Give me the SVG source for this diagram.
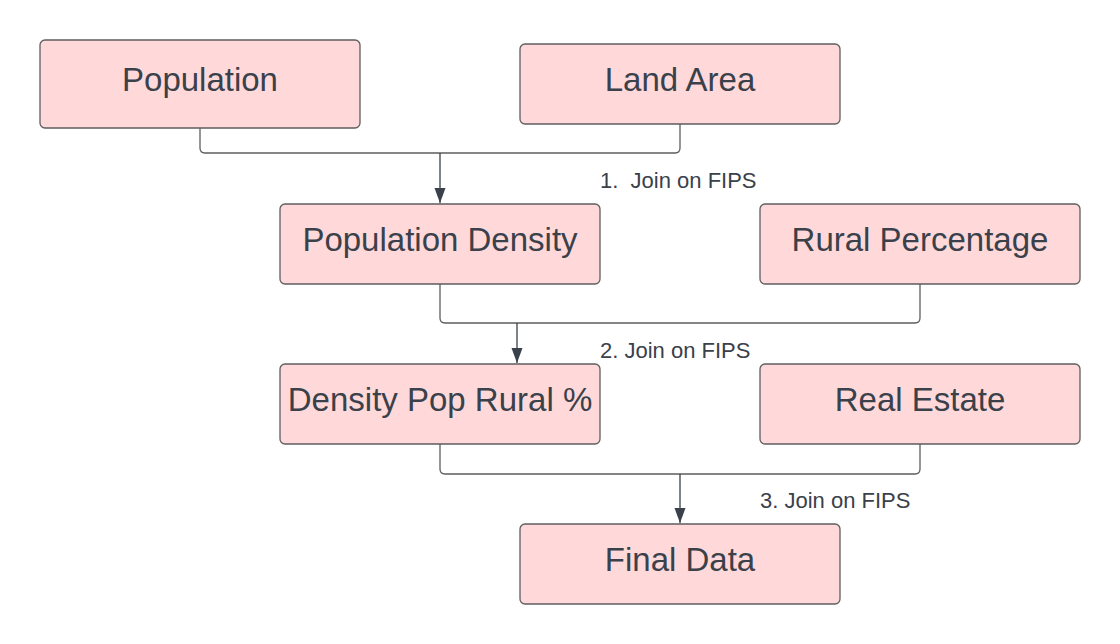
<svg xmlns="http://www.w3.org/2000/svg" width="1120" height="644" viewBox="0 0 1120 644">
<style>
.box{fill:#ffd9da;stroke:#5e5e5e;stroke-width:1.3}
.t{font-family:"Liberation Sans",Arial,sans-serif;font-size:33px;fill:#3a414a;text-anchor:middle}
.lbl{font-family:"Liberation Sans",Arial,sans-serif;font-size:22px;fill:#3a414a}
.c{fill:none;stroke:#5e5e5e;stroke-width:1.3}
.a{fill:none;stroke:#3a414a;stroke-width:1.3}
</style>
<defs>
<marker id="ah" markerWidth="16" markerHeight="12" refX="15" refY="6" orient="auto" markerUnits="userSpaceOnUse" viewBox="0 0 16 12">
<path d="M0,0.5 L15,6 L0,11.5 Z" fill="#3a414a"/>
</marker>
</defs>
<rect width="1120" height="644" fill="#ffffff"/>
<g id="connectors">
<path class="c" d="M200,128 V148 Q200,153 205,153 H675 Q680,153 680,148 V124"/>
<path class="a" d="M440,153 V203" marker-end="url(#ah)"/>
<path class="c" d="M440,284 V318 Q440,323 445,323 H915 Q920,323 920,318 V284"/>
<path class="a" d="M517,323 V363" marker-end="url(#ah)"/>
<path class="c" d="M440,444 V469 Q440,474 445,474 H915 Q920,474 920,469 V444"/>
<path class="a" d="M680,474 V523" marker-end="url(#ah)"/>
<text class="lbl" x="600" y="188" xml:space="preserve">1.  Join on FIPS</text>
<text class="lbl" x="600" y="358">2. Join on FIPS</text>
<text class="lbl" x="760" y="508">3. Join on FIPS</text>
</g>
<g id="population"><rect class="box" x="40" y="40" width="320" height="88" rx="5"/><text class="t" x="200" y="91">Population</text></g>
<g id="land-area"><rect class="box" x="520" y="44" width="320" height="80" rx="5"/><text class="t" x="680" y="91">Land Area</text></g>
<g id="population-density"><rect class="box" x="280" y="204" width="320" height="80" rx="5"/><text class="t" x="440" y="251">Population Density</text></g>
<g id="rural-percentage"><rect class="box" x="760" y="204" width="320" height="80" rx="5"/><text class="t" x="920" y="251">Rural Percentage</text></g>
<g id="density-pop-rural"><rect class="box" x="280" y="364" width="320" height="80" rx="5"/><text class="t" x="440" y="411">Density Pop Rural %</text></g>
<g id="real-estate"><rect class="box" x="760" y="364" width="320" height="80" rx="5"/><text class="t" x="920" y="411">Real Estate</text></g>
<g id="final-data"><rect class="box" x="520" y="524" width="320" height="80" rx="5"/><text class="t" x="680" y="571">Final Data</text></g>
</svg>
